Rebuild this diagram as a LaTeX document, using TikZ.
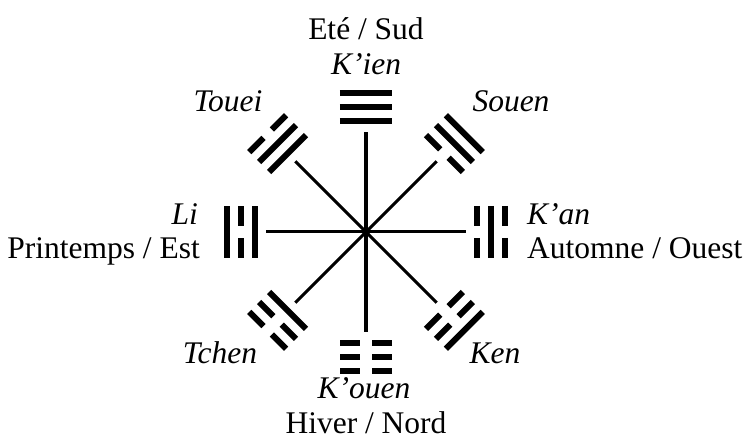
\documentclass[tikz,border=0pt]{standalone}
\usepackage{fontspec}
\setmainfont{Liberation Serif}
\usepackage{tikz}

% one line of a trigram: radius, 1 = solid / 0 = broken
\newcommand{\yao}[2]{%
  \ifnum#2=1
    \draw[yaoline] (-26,#1) -- (26,#1);
  \else
    \draw[yaoline] (-26,#1) -- (-6,#1) (6,#1) -- (26,#1);
  \fi}

\begin{document}
\begin{tikzpicture}[x=1pt,y=1pt,
    spoke/.style={line width=3pt},
    yaoline/.style={line width=6pt},
    lbl/.style={inner sep=0pt,anchor=base,font=\fontsize{31.5}{35}\selectfont}]
  \useasboundingbox (-366,-214) rectangle (381,232);
  \coordinate (O) at (0,0);

  % spokes and trigrams (bottom line nearest the centre)
  \foreach \i/\ang/\a/\b/\c in {1/90/1/1/1, 2/45/0/1/1, 3/0/0/1/0, 4/-45/0/0/1,
      5/-90/0/0/0, 6/-135/1/0/0, 7/180/1/0/1, 8/135/1/1/0} {
    \coordinate (t\i) at (\ang:100);
    \draw[spoke] (O) -- (t\i);
    \begin{scope}[rotate=\ang-90]
      \yao{111}{\a}
      \yao{125}{\b}
      \yao{139}{\c}
    \end{scope}
  }
  \fill (O) circle (4);

  % labels
  \node[lbl] (ete) at (0,192) {Eté / Sud};
  \node[lbl] (kien) at (0,157) {\itshape K’ien};
  \node[lbl] (touei) at (-138,120) {\itshape Touei};
  \node[lbl] (souen) at (145,120) {\itshape Souen};
  \node[lbl,anchor=base east] (li) at (-168,7) {\itshape Li};
  \node[lbl,anchor=base east] (est) at (-166,-27) {Printemps / Est};
  \node[lbl,anchor=base west] (kan) at (161,7) {\itshape K’an};
  \node[lbl,anchor=base west] (ouest) at (161,-27) {Automne / Ouest};
  \node[lbl] (tchen) at (-146,-132) {\itshape Tchen};
  \node[lbl] (ken) at (129,-132) {\itshape Ken};
  \node[lbl] (kouen) at (-2,-167) {\itshape K’ouen};
  \node[lbl] (nord) at (0,-202) {Hiver / Nord};
\end{tikzpicture}
\end{document}
